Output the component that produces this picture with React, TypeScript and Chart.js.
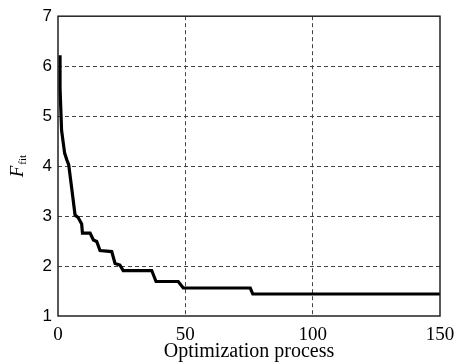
import React, { useEffect, useRef } from "react";
import { Chart, registerables } from "chart.js";

Chart.register(...registerables);

const iterations = [0.8, 0.8, 1.4, 2.6, 3.5, 4.2, 5.4, 6.7, 7.9, 9.3, 9.6, 12.6, 13.9, 15.2, 16.5, 21.1, 22.4, 24.3, 25.6, 36.8, 38.5, 47.2, 49.2, 75.5, 76.5, 150];
const fitness = [6.22, 5.56, 4.72, 4.26, 4.12, 4.03, 3.55, 3.02, 2.97, 2.84, 2.66, 2.66, 2.52, 2.49, 2.31, 2.29, 2.05, 2.02, 1.91, 1.91, 1.69, 1.69, 1.56, 1.56, 1.44, 1.44];
const xTicks = [0, 50, 100, 150];
const yTicks = [1, 2, 3, 4, 5, 6, 7];
const xTitle = "Optimization process";
const yTitleMain = "F";
const yTitleSub = "fit";

const frameAndTitle = {
  id: "frameAndTitle",
  afterDraw(chart: any) {
    const { ctx, chartArea } = chart;
    ctx.save();
    ctx.strokeStyle = "#222";
    ctx.lineWidth = 1.5;
    ctx.setLineDash([]);
    ctx.strokeRect(chartArea.left, chartArea.top, chartArea.right - chartArea.left, chartArea.bottom - chartArea.top);
    const cy = (chartArea.top + chartArea.bottom) / 2;
    ctx.translate(23, cy);
    ctx.rotate(-Math.PI / 2);
    ctx.fillStyle = "#000";
    ctx.textBaseline = "alphabetic";
    ctx.font = "italic 19px 'Liberation Serif'";
    const wF = ctx.measureText(yTitleMain).width;
    ctx.font = "11px 'Liberation Serif'";
    const wS = ctx.measureText(yTitleSub).width;
    const x0 = -(wF + wS + 1) / 2;
    ctx.font = "italic 19px 'Liberation Serif'";
    ctx.fillText(yTitleMain, x0, 0);
    ctx.font = "11px 'Liberation Serif'";
    ctx.fillText(yTitleSub, x0 + wF + 1, 3);
    ctx.restore();
  },
};

export default function App() {
  const ref = useRef<HTMLCanvasElement>(null);
  useEffect(() => {
    if (!ref.current) return;
    const points = iterations.map((x, i) => ({ x, y: fitness[i] }));
    const chart = new Chart(ref.current, {
      type: "line",
      data: {
        datasets: [
          {
            data: points,
            borderColor: "#000",
            borderWidth: 3.2,
            pointRadius: 0,
            tension: 0,
            fill: false,
          },
        ],
      },
      options: {
        animation: false,
        responsive: false,
        devicePixelRatio: 1,
        layout: { padding: { top: 16, right: 27, left: 0, bottom: 0 } },
        plugins: { legend: { display: false }, tooltip: { enabled: false } },
        scales: {
          x: {
            type: "linear",
            min: 0,
            max: 150,
            afterBuildTicks: (s: any) => {
              s.ticks = xTicks.map((v) => ({ value: v }));
            },
            afterFit: (s: any) => {
              s.height = 48;
            },
            border: { display: false, dash: [4, 3] },
            grid: {
              drawTicks: false,
              color: (c: any) => (c.tick && (c.tick.value === 0 || c.tick.value === 150) ? "rgba(0,0,0,0)" : "#444"),
              lineWidth: 1,
            },
            ticks: {
              color: "#000",
              padding: 8,
              maxRotation: 0,
              font: { family: "'Liberation Serif'", size: 19 },
            },
            title: {
              display: true,
              text: xTitle,
              color: "#000",
              padding: { top: 4, bottom: 0 },
              font: { family: "'Liberation Serif'", size: 20 },
            },
          },
          y: {
            min: 1,
            max: 7,
            afterBuildTicks: (s: any) => {
              s.ticks = yTicks.map((v) => ({ value: v }));
            },
            afterFit: (s: any) => {
              s.width = 58;
            },
            border: { display: false, dash: [4, 3] },
            grid: {
              drawTicks: false,
              color: (c: any) => (c.tick && (c.tick.value === 1 || c.tick.value === 7) ? "rgba(0,0,0,0)" : "#444"),
              lineWidth: 1,
            },
            ticks: {
              color: "#000",
              padding: 6,
              font: { family: "'Liberation Sans'", size: 17 },
            },
          },
        },
      },
      plugins: [frameAndTitle],
    } as any);
    return () => chart.destroy();
  }, []);
  return (
    <div style={{ position: "absolute", left: 0, top: 0, width: 467, height: 364, background: "#fff" }}>
      <canvas ref={ref} width={467} height={364} />
    </div>
  );
}
